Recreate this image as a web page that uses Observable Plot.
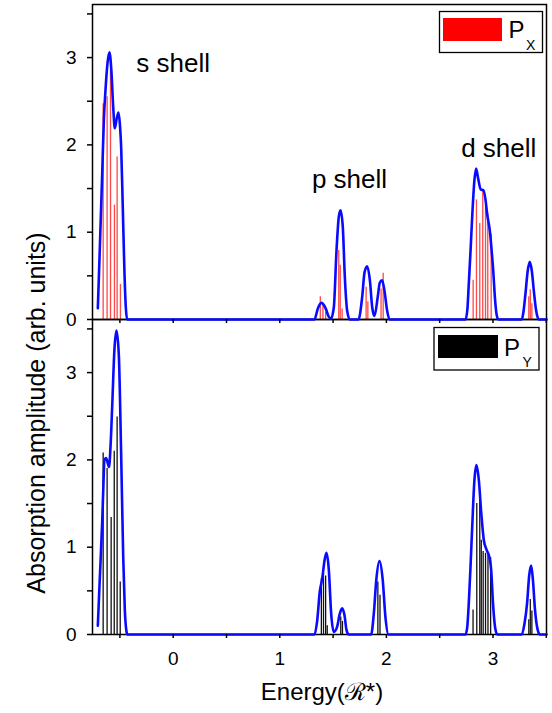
<!DOCTYPE html>
<html><head><meta charset="utf-8">
<script src="https://cdn.jsdelivr.net/npm/d3@7"></script>
<script src="https://cdn.jsdelivr.net/npm/@observablehq/plot@0.6"></script>
<style>
body{margin:0;background:#fff;}
#chart{position:relative;width:552px;height:713px;}
</style></head><body><div id="chart"></div>
<script>
// Panels
const panels = ["Px", "Py"];
// Tick values
const xMajorTicks = [0, 1, 2, 3];
const xMinorTicks = [-0.5, 0.5, 1.5, 2.5, 3.5];
const yMajorTicks = [0, 1, 2, 3];
const yMinorTicks = [0.5, 1.5, 2.5, 3.5];
const shellLabels = ["s shell", "p shell", "d shell"];

// Broadened absorption envelope (blue), Px polarisation: [energy, amplitude]
const pxEnvelope = [
  [-0.707,0.13],[-0.69,0.75],[-0.666,1.67],[-0.65,2.3],[-0.635,2.63],[-0.615,2.95],[-0.598,3.06],[-0.58,2.85],
  [-0.563,2.44],[-0.548,2.19],[-0.53,2.3],[-0.513,2.37],[-0.498,2.2],[-0.488,1.97],[-0.473,1.29],[-0.457,0.53],
  [-0.445,0.15],[-0.432,0],
  [1.325,0],[1.357,0.126],[1.39,0.19],[1.429,0.13],[1.46,0.03],[1.48,0.01],[1.507,0.14],[1.532,0.79],[1.554,1.18],
  [1.57,1.25],[1.591,1.06],[1.61,0.49],[1.632,0.1],[1.657,0],
  [1.738,0],[1.773,0.26],[1.795,0.54],[1.82,0.61],[1.845,0.45],[1.867,0.14],[1.888,0.04],[1.919,0.26],[1.938,0.42],
  [1.96,0.45],[1.982,0.33],[2.007,0.1],[2.03,0],
  [2.742,0],[2.76,0.12],[2.773,0.41],[2.79,0.8],[2.805,1.18],[2.826,1.6],[2.842,1.73],[2.86,1.62],[2.885,1.49],
  [2.91,1.48],[2.93,1.37],[2.945,1.21],[2.97,1.02],[2.99,0.75],[3.0,0.6],[3.02,0.22],[3.035,0.05],[3.05,0],
  [3.27,0],[3.285,0.08],[3.305,0.3],[3.325,0.55],[3.345,0.66],[3.365,0.55],[3.383,0.33],[3.405,0.1],[3.43,0],[3.502,0]
];
// Broadened absorption envelope (blue), Py polarisation
const pyEnvelope = [
  [-0.707,0.1],[-0.69,0.6],[-0.666,1.29],[-0.655,1.7],[-0.645,2.0],[-0.63,2.02],[-0.615,1.97],[-0.602,1.92],
  [-0.588,2.15],[-0.572,2.62],[-0.551,3.27],[-0.532,3.48],[-0.51,3.2],[-0.488,2.05],[-0.469,0.9],[-0.454,0.29],
  [-0.44,0.05],[-0.43,0],
  [1.325,0],[1.351,0.16],[1.375,0.49],[1.398,0.64],[1.42,0.85],[1.438,0.935],[1.46,0.74],[1.482,0.24],[1.507,0.03],
  [1.538,0.09],[1.563,0.24],[1.585,0.3],[1.607,0.22],[1.626,0.05],[1.647,0],
  [1.857,0],[1.882,0.24],[1.905,0.62],[1.935,0.84],[1.966,0.62],[1.991,0.2],[2.02,0],
  [2.742,0],[2.758,0.08],[2.773,0.36],[2.79,0.8],[2.805,1.23],[2.826,1.77],[2.845,1.94],[2.867,1.77],[2.89,1.39],
  [2.914,1.08],[2.94,0.97],[2.965,0.89],[2.983,0.74],[3.0,0.36],[3.02,0.08],[3.04,0],
  [3.27,0],[3.295,0.12],[3.32,0.36],[3.34,0.68],[3.358,0.79],[3.375,0.62],[3.393,0.3],[3.42,0.05],[3.44,0],[3.502,0]
];
// Transition lines (sticks)
const pxSticks = [
  [-0.657,2.47],[-0.62,2.55],[-0.588,2.85],[-0.551,1.31],[-0.526,1.86],[-0.495,0.4],
  [1.38,0.26],[1.405,0.16],[1.43,0.08],[1.553,0.79],[1.567,0.62],[1.585,0.12],[1.81,0.37],[1.826,0.2],[1.95,0.35],[1.97,0.53],
  [2.814,0.45],[2.845,1.37],[2.876,1.1],[2.904,1.48],[2.93,1.3],[2.951,1.21],[2.983,0.98],
  [3.336,0.26],[3.35,0.34],[3.365,0.18]
];
const pySticks = [
  [-0.657,2.08],[-0.62,1.9],[-0.582,1.34],[-0.553,2.1],[-0.526,2.49],[-0.497,0.6],
  [1.39,0.64],[1.41,0.7],[1.43,0.67],[1.445,0.1],[1.572,0.2],[1.588,0.15],[1.92,0.6],[1.94,0.45],
  [2.813,0.28],[2.848,1.5],[2.876,1.54],[2.89,1.08],[2.908,0.95],[2.93,0.93],[2.953,0.91],[2.978,0.88],
  [3.336,0.17],[3.35,0.4],[3.365,0.27]
];

const toRows = (arr, panel) => arr.map(([x, y]) => ({panel, x, y}));
const envelope = [...toRows(pxEnvelope, "Px"), ...toRows(pyEnvelope, "Py")];
const redSticks = toRows(pxSticks, "Px");
const blackSticks = toRows(pySticks, "Py");

const FONT = "'Liberation Sans', Arial, Helvetica, sans-serif";
const intFmt = d3.format("d");

const plot = Plot.plot({
  width: 552, height: 713,
  marginLeft: 92, marginRight: 6, marginTop: 4, marginBottom: 79,
  x: {domain: [-0.757, 3.502]},
  y: {domain: [0, 3.608]},
  fy: {domain: panels, padding: 0, axis: null},
  style: {fontFamily: FONT, background: "white", color: "black"},
  marks: [
    Plot.ruleX(redSticks, {x: "x", y1: 0, y2: "y", fy: "panel", stroke: "#ff1a1a", strokeWidth: 1.3, strokeOpacity: 0.8}),
    Plot.ruleX(blackSticks, {x: "x", y1: 0, y2: "y", fy: "panel", stroke: "#111", strokeWidth: 1.3}),
    Plot.frame({stroke: "black", strokeWidth: 1.5}),
    Plot.line(envelope, {x: "x", y: "y", fy: "panel", stroke: "#0a0aff", strokeWidth: 2.6, curve: "monotone-x"}),
    Plot.text([shellLabels[0]], {x: 0.0, y: 2.928, fy: () => "Px", text: d => d, fontSize: 26}),
    Plot.text([shellLabels[1]], {x: 1.654, y: 1.604, fy: () => "Px", text: d => d, fontSize: 26}),
    Plot.text([shellLabels[2]], {x: 3.054, y: 1.962, fy: () => "Px", text: d => d, fontSize: 26}),
    Plot.axisY({ticks: yMajorTicks, tickFormat: intFmt, tickSize: 5, tickPadding: 11, fontSize: 19, label: null, strokeWidth: 1.5}),
    Plot.axisY({ticks: yMinorTicks, tickSize: 5, fill: "none", label: null, strokeWidth: 1.5}),
    Plot.axisX({ticks: [...xMajorTicks, ...xMinorTicks], tickSize: 4, fill: "none", label: null, facetAnchor: "top", strokeWidth: 1.5}),
    Plot.axisX({ticks: xMinorTicks, tickSize: 4, fill: "none", label: null, strokeWidth: 1.5}),
    Plot.axisX({ticks: xMajorTicks, tickFormat: intFmt, tickSize: 4, tickPadding: 13, fontSize: 19, label: null, strokeWidth: 1.5})
  ]
});

document.getElementById("chart").appendChild(plot);
const svg = d3.select(plot);

// Axis titles
svg.append("text")
  .attr("transform", "translate(38,413) rotate(-90)")
  .attr("text-anchor", "middle").attr("dominant-baseline", "middle")
  .attr("font-family", FONT).attr("font-size", 25).attr("fill", "black")
  .text("Absorption amplitude (arb. units)");
svg.append("text")
  .attr("x", 322).attr("y", 700)
  .attr("text-anchor", "middle")
  .attr("font-family", FONT).attr("font-size", 24).attr("fill", "black")
  .text("Energy(ℛ*)");

// Legends
function legend(bx, by, bw, bh, sx, sy, sw, sh, color, px, pyb, sub, subx, subyb) {
  const g = svg.append("g").attr("text-anchor", "start");
  g.append("rect").attr("x", bx).attr("y", by).attr("width", bw).attr("height", bh)
    .attr("fill", "white").attr("stroke", "black").attr("stroke-width", 1.3);
  g.append("rect").attr("x", sx).attr("y", sy).attr("width", sw).attr("height", sh).attr("fill", color);
  g.append("text").attr("x", px).attr("y", pyb).attr("text-anchor", "start").attr("font-family", FONT).attr("font-size", 24).attr("fill", "black").text("P");
  g.append("text").attr("x", subx).attr("y", subyb).attr("text-anchor", "start").attr("font-family", FONT).attr("font-size", 14).attr("fill", "black").text(sub);
}
legend(439.5, 11.5, 103, 41, 443, 18, 59, 23, "#ff0000", 508.5, 37.5, "X", 526, 49.5);
legend(434, 327.5, 105, 42.5, 438, 335, 60, 23, "#000000", 504, 355.5, "Y", 522.5, 366.5);
</script>
</body></html>
